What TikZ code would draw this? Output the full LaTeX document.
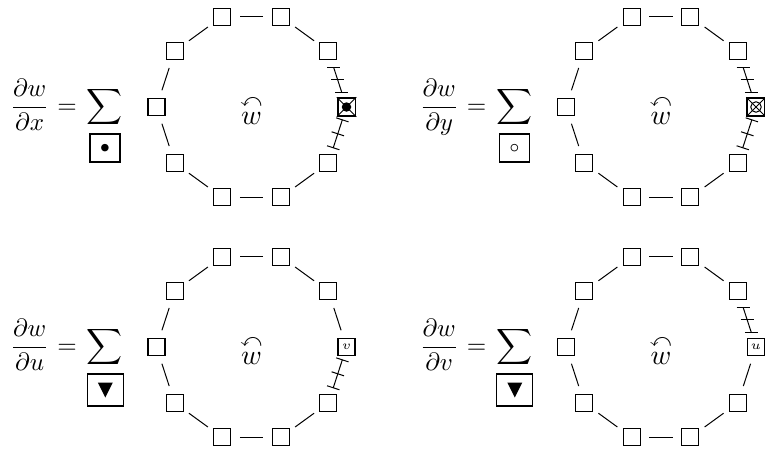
\documentclass[tikz,border=0pt]{standalone}
\usepackage{amsmath,amssymb}
\usetikzlibrary{calc}
\tikzset{
  sq/.style={draw, line width=0.45pt, minimum size=6.8pt, inner sep=0pt},
  conn/.style={line width=0.4pt},
  lbl/.style={inner sep=0pt, anchor=base},
  sumbox/.style={draw, line width=0.45pt, inner sep=0pt},
  centre/.style={inner sep=0pt, scale=1.12},
}
\newcommand\plainconn[2]{\draw[conn] ($(#1)!0.30!(#2)$) -- ($(#1)!0.70!(#2)$);}
\newcommand\barconn[2]{%
  \coordinate (ba) at ($(#1)!0.29!(#2)$);
  \coordinate (bb) at ($(#1)!0.74!(#2)$);
  \coordinate (bm) at ($(ba)!0.5!(bb)$);
  \draw[conn] (ba) -- (bb);
  \foreach \p in {ba,bm,bb} \draw[conn] ($(\p)+(-6.5,0)$) -- ($(\p)+(6.5,0)$);
}
\newcommand\tickconn[2]{%
  \coordinate (ta) at ($(#1)!0.23!(#2)$);
  \coordinate (tb) at ($(#1)!0.73!(#2)$);
  \coordinate (tm) at ($(ta)!0.5!(tb)$);
  \draw[conn] (ta) -- (tb);
  \foreach \p in {ta,tm,tb} \draw[conn] ($(\p)!2.6pt!90:(#2)$) -- ($(\p)!2.6pt!-90:(#2)$);
}
\newcommand\ringsquares[3]{%
  \coordinate (#1-c) at (#2,#3);
  \foreach \k in {1,...,9}{
    \node[sq] (#1-\k) at ($(#1-c)+(\k*36:95)$) {};
  }
  \foreach \k [evaluate=\k as \j using int(\k+1)] in {1,...,8}{
    \plainconn{#1-\k}{#1-\j}
  }
  \node[centre] (#1-w) at ($(#1-c)+(0,-3)$) {$\overset{\curvearrowleft}{w}$};
}
\begin{document}
\begin{tikzpicture}[x=0.4pt,y=0.4pt]
\useasboundingbox (0,0) rectangle (765,448);

% ---------- panel 1 ----------
\ringsquares{p1}{251.5}{341}
\node[sq, minimum size=7.1pt, line width=0.7pt] (p1-0) at ($(p1-c)+(0:95)$) {};
\draw[conn] (p1-0.north west) -- (p1-0.south east) (p1-0.north east) -- (p1-0.south west);
\fill (p1-0.center) circle (1.9pt);
\barconn{p1-1}{p1-0}
\tickconn{p1-0}{p1-9}
\node[lbl] (p1-f) at (29.7,334.75) {$\displaystyle\frac{\partial w}{\partial x}$};
\node[lbl] (p1-eq) at (67,334.75) {$=$};
\node[lbl] (p1-s) at (105,334.75) {$\displaystyle\sum$};
\node[sumbox, minimum width=12pt, minimum height=11.2pt] (p1-b) at (105,300) {$\scriptstyle\bullet$};

% ---------- panel 2 ----------
\ringsquares{p2}{661}{341}
\node[sq, minimum size=7.1pt, line width=0.7pt] (p2-0) at ($(p2-c)+(0:95)$) {};
\draw[conn] (p2-0.north west) -- (p2-0.south east) (p2-0.north east) -- (p2-0.south west);
\draw[conn] (p2-0.center) circle (2.1pt);
\barconn{p2-1}{p2-0}
\tickconn{p2-0}{p2-9}
\node[lbl] (p2-f) at (439.2,334.75) {$\displaystyle\frac{\partial w}{\partial y}$};
\node[lbl] (p2-eq) at (476.5,334.75) {$=$};
\node[lbl] (p2-s) at (514.5,334.75) {$\displaystyle\sum$};
\node[sumbox, minimum width=12pt, minimum height=11.2pt] (p2-b) at (514.5,300) {$\scriptstyle\circ$};

% ---------- panel 3 ----------
\ringsquares{p3}{251.5}{101}
\node[sq, font=\tiny] (p3-0) at ($(p3-c)+(0:95)$) {$v$};
\plainconn{p3-1}{p3-0}
\tickconn{p3-0}{p3-9}
\node[lbl] (p3-f) at (29.7,94.75) {$\displaystyle\frac{\partial w}{\partial u}$};
\node[lbl] (p3-eq) at (67,94.75) {$=$};
\node[lbl] (p3-s) at (105,94.75) {$\displaystyle\sum$};
\node[sumbox, minimum width=14.4pt, minimum height=12.8pt] (p3-b) at (105.3,58) {};
\fill ($(p3-b)+(-3pt,3pt)$) -- ($(p3-b)+(3pt,3pt)$) -- ($(p3-b)+(0pt,-3pt)$) -- cycle;

% ---------- panel 4 ----------
\ringsquares{p4}{661}{101}
\node[sq, font=\tiny] (p4-0) at ($(p4-c)+(0:95)$) {$u$};
\barconn{p4-1}{p4-0}
\plainconn{p4-0}{p4-9}
\node[lbl] (p4-f) at (439.2,94.75) {$\displaystyle\frac{\partial w}{\partial v}$};
\node[lbl] (p4-eq) at (476.5,94.75) {$=$};
\node[lbl] (p4-s) at (514.5,94.75) {$\displaystyle\sum$};
\node[sumbox, minimum width=14.4pt, minimum height=12.8pt] (p4-b) at (514.8,58) {};
\fill ($(p4-b)+(-3pt,3pt)$) -- ($(p4-b)+(3pt,3pt)$) -- ($(p4-b)+(0pt,-3pt)$) -- cycle;
\end{tikzpicture}
\end{document}
